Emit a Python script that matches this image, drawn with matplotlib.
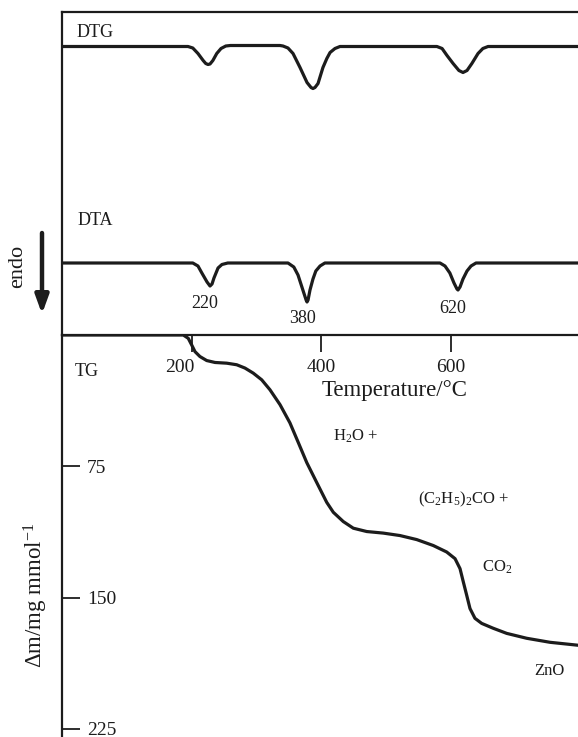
import matplotlib
matplotlib.use("Agg")
import matplotlib.pyplot as plt
from matplotlib.transforms import ScaledTranslation

# ========================= DATA =========================
# TG curve: temperature (°C) vs mass loss (mg/mmol)
tg_temp = [0, 187.3, 195, 200.3, 205.4, 213, 223.5, 236.3, 254.4, 269.8, 282.6,
           295.4, 308.4, 321.2, 336.7, 352, 365, 378, 393.4, 408.8, 419, 434.4,
           449.9, 470.6, 496.2, 522, 547.8, 573.4, 594.1, 607, 614.7, 619.8, 625,
           630.1, 637.8, 648.2, 666.1, 686.8, 717.7, 753.7, 800]
tg_loss = [0, 0, 1.9, 5.7, 9.5, 12.3, 14.6, 15.7, 16.1, 17, 18.9,
           21.8, 25.6, 31.3, 39.8, 50.2, 61.5, 72.9, 84.3, 95.6, 101.3, 106.6,
           110.4, 112.3, 113.2, 114.6, 116.9, 120.3, 124, 127.8, 133.5, 141.1, 148.7,
           156.3, 161.9, 164.8, 167.6, 170.5, 173.3, 175.6, 177.4]

# DTG curve (arbitrary units)
dtg_temp = [0, 194.6, 202, 210, 218, 222, 225.5, 228.6, 233, 239, 245.6, 253, 260,
            336.7, 341.3, 349, 356.8, 367.6, 378.4, 384.6, 387.6, 390.7, 395.4, 403,
            409, 414, 421.6, 429.3, 579, 587, 594.6, 604, 613, 619.3, 625.5, 633,
            642.5, 650, 658, 800]
dtg_signal = [0, 0, -1.5, -7, -14, -17, -18, -17.5, -14, -7, -2, 0.5, 1,
              1, 0.5, -1.5, -7, -21, -36, -41, -42, -41, -37, -21,
              -12, -6, -2, 0, 0, -2, -9, -17, -24, -26, -24, -17,
              -7, -2, 0, 0]

# DTA curve (arbitrary units, endo down)
dta_temp = [0, 202, 210, 216, 224, 228.6, 231.7, 234.7, 241, 247, 256,
            349, 358, 364.5, 372, 377, 378.4, 380, 383, 387.6, 392, 398.5, 406,
            583.8, 591.5, 599, 605.4, 610, 611.6, 614.7, 619.3, 625.5, 631.7, 639.4, 800]
dta_signal = [0, 0, -3, -10, -19, -23, -21, -15, -5, -1.5, 0,
              0, -4, -12, -27, -37, -39, -37, -27, -16, -8, -3, 0,
              0, -3, -10, -20, -26, -27, -24, -16, -8, -3, 0, 0]

peak_labels = ["220", "380", "620"]
peak_label_temp = [221, 371, 604]

temp_ticks = [200, 400, 600]
tg_ticks = [75, 150, 225]

species = ["H$_2$O +", "(C$_2$H$_5$)$_2$CO +", "CO$_2$", "ZnO"]
# ===============================================================================

INK = "#1c1c1c"
DTG_BASE = 288.5
DTA_BASE = 72
PEAK_LABEL_Y = [32, 17, 27]
SPECIES_POS = [(418, 58), (550, 94), (648, 132.5), (730, 192)]
PX_PER_MG = 1.75

plt.rcParams["font.family"] = ["Liberation Serif", "DejaVu Serif"]
plt.rcParams["mathtext.fontset"] = "custom"
plt.rcParams["mathtext.rm"] = "Liberation Serif"
plt.rcParams["mathtext.it"] = "Liberation Serif:italic"
plt.rcParams["mathtext.bf"] = "Liberation Serif:bold"
plt.rcParams["text.color"] = INK
plt.rcParams["axes.edgecolor"] = INK
plt.rcParams["xtick.color"] = INK
plt.rcParams["ytick.color"] = INK

W, H = 578, 737
fig = plt.figure(figsize=(W / 100, H / 100), dpi=100)

x0 = 62 / W
aw = 518 / W
axis_y = 335  # pixel row of the temperature axis
top_y = 11.5

ax_tg = fig.add_axes([x0, 0, aw, (H - axis_y) / H])
ax_top = fig.add_axes([x0, (H - axis_y) / H, aw, (axis_y - top_y) / H])
ax_tg.patch.set_visible(False)
ax_top.patch.set_visible(False)
ax_top.set_zorder(3)

# ---- DTG / DTA panel ----
ax_top.plot(dtg_temp, [DTG_BASE + s for s in dtg_signal], color=INK, lw=2.3,
            solid_joinstyle="round", solid_capstyle="round")
ax_top.plot(dta_temp, [DTA_BASE + s for s in dta_signal], color=INK, lw=2.3,
            solid_joinstyle="round", solid_capstyle="round")
ax_top.set_xlim(0, 800)
ax_top.set_ylim(0, axis_y - top_y)
ax_top.spines["right"].set_visible(False)
for side in ["top", "left", "bottom"]:
    ax_top.spines[side].set_linewidth(1.6)
ax_top.set_yticks([])
ax_top.set_xticks(temp_ticks)
ax_top.set_xticklabels([str(t) for t in temp_ticks])
ax_top.tick_params(axis="x", direction="out", length=12.5, width=1.3,
                   labelsize=14, pad=4.5)
# the 200 label sits left of its tick (keeps clear of the TG step)
lab200 = ax_top.get_xticklabels()[0]
lab200.set_transform(lab200.get_transform() +
                     ScaledTranslation(-12 / 100, 0, fig.dpi_scale_trans))

ax_top.text(23, 303, "DTG", fontsize=13, ha="left", va="center")
ax_top.text(24.5, 115, "DTA", fontsize=13, ha="left", va="center")
for lab, t, y in zip(peak_labels, peak_label_temp, PEAK_LABEL_Y):
    ax_top.text(t, y, lab, fontsize=13, ha="center", va="center")

# ---- TG panel ----
ax_tg.plot(tg_temp, tg_loss, color=INK, lw=2.3, solid_joinstyle="round",
           solid_capstyle="round")
ax_tg.set_xlim(0, 800)
ax_tg.set_ylim((H - axis_y) / PX_PER_MG, 0)
for side in ["top", "right", "bottom"]:
    ax_tg.spines[side].set_visible(False)
ax_tg.spines["left"].set_linewidth(1.6)
ax_tg.set_xticks([])
ax_tg.set_yticks(tg_ticks)
ax_tg.set_yticklabels([str(t) for t in tg_ticks])
ax_tg.tick_params(axis="y", direction="in", length=13, width=1.3,
                  labelsize=14, pad=-18)
for lab in ax_tg.get_yticklabels():
    lab.set_horizontalalignment("left")

ax_tg.text(20, 21, "TG", fontsize=13, ha="left", va="center")
for name, (t, m) in zip(species, SPECIES_POS):
    ax_tg.text(t, m, name, fontsize=12, ha="left", va="center")
ax_tg.text(514, 31.5, "Temperature/°C", fontsize=16.5, ha="center", va="center")

# ---- outer labels ----
fig.text(36 / W, 1 - 595 / H, "Δm/mg mmol$^{-1}$", fontsize=16.5,
         rotation=90, ha="center", va="center")
fig.text(18 / W, 1 - 266 / H, "endo", fontsize=16, rotation=90,
         ha="center", va="center")
ax_top.annotate("", xy=(42, H - 314), xytext=(42, H - 233),
                xycoords="figure pixels", textcoords="figure pixels",
                arrowprops=dict(arrowstyle="-|>,head_length=0.55,head_width=0.2",
                                lw=3.2, color=INK, mutation_scale=20,
                                shrinkA=0, shrinkB=0))

fig.savefig("out.png", dpi=100)
